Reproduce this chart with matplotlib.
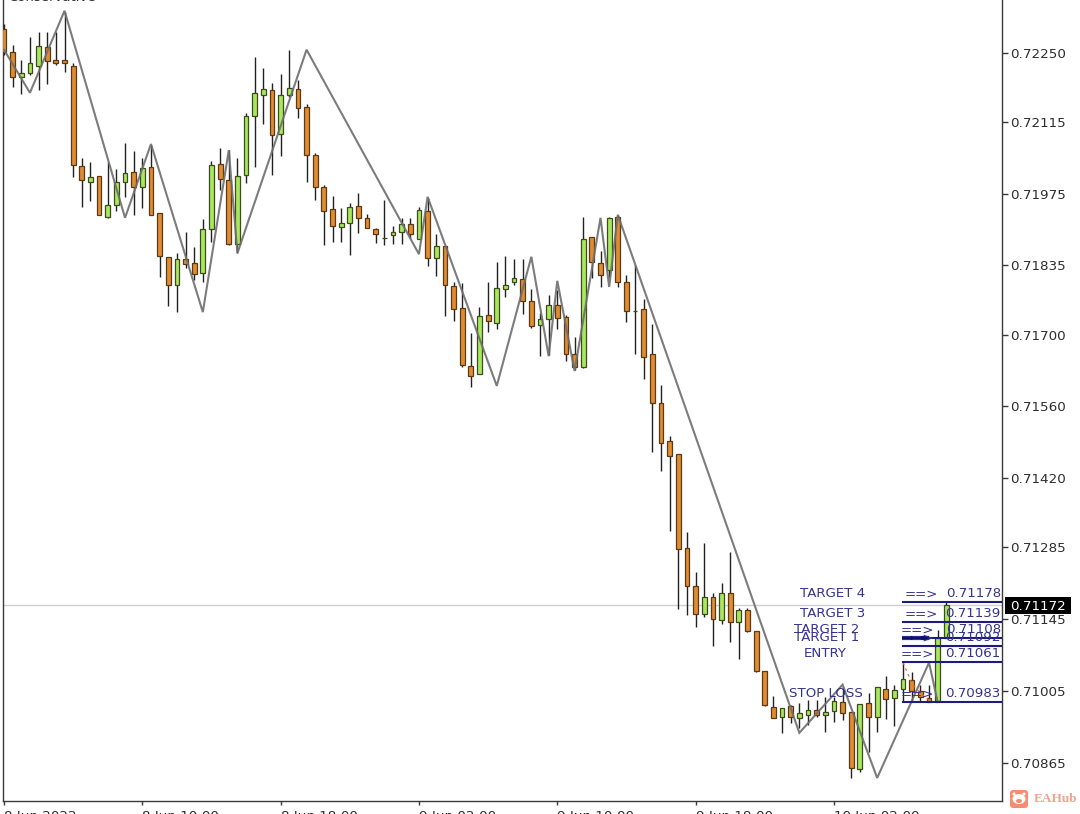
# -*- coding: utf-8 -*-
import matplotlib
matplotlib.use("Agg")
import matplotlib.pyplot as plt
from matplotlib.patches import FancyBboxPatch, Ellipse, Rectangle, Circle

# 30 min bars, prices in points (1e-5)
opens = [72296,72252,72203,72211,72224,72261,72236,72236,72224,72029,
         71998,72010,71930,71953,71998,72017,71988,72027,71937,71852,
         71797,71848,71840,71820,71906,72033,72002,71877,72012,72127,
         72168,72178,72092,72168,72179,72144,72051,71988,71945,71910,
         71918,71951,71928,71906,71889,71895,71900,71916,71887,71941,
         71850,71873,71795,71752,71639,71623,71738,71723,71789,71803,
         71809,71766,71719,71731,71758,71735,71662,71637,71891,71840,
         71826,71930,71803,71746,71750,71662,71567,71493,71467,71284,
         71210,71155,71188,71143,71196,71139,71163,71122,71044,70974,
         70954,70976,70952,70958,70968,70958,70966,70983,70964,70853,
         70981,70954,71009,70991,71009,71026,71005,70991,70985,71108]
highs = [72306,72265,72236,72281,72291,72291,72291,72330,72230,72045,
         72037,72010,72037,72023,72074,72058,72045,72070,71937,71852,
         71859,71900,71871,71926,72039,72064,72060,72045,72133,72242,
         72220,72191,72209,72256,72197,72150,72055,71992,71971,71947,
         71957,71976,71936,71908,71963,71912,71928,71928,71949,71967,
         71896,71873,71803,71801,71703,71754,71803,71842,71854,71848,
         71848,71789,71742,71777,71787,71738,71696,71930,71891,71863,
         71930,71934,71816,71836,71770,71721,71602,71502,71467,71315,
         71237,71294,71196,71216,71276,71167,71167,71122,71044,70995,
         70972,70978,70981,70987,70987,70993,70993,71013,70964,70980,
         71001,71013,71034,71017,71060,71042,71017,71017,71124,71178]
lows = [72246,72183,72170,72207,72178,72189,72226,72213,72008,71949,
        71961,71934,71928,71941,71969,71934,71947,71934,71813,71756,
        71744,71830,71807,71803,71881,71982,71875,71859,71996,72027,
        72111,72012,72049,72164,72123,71998,71963,71875,71881,71881,
        71856,71898,71908,71879,71875,71877,71877,71889,71887,71834,
        71815,71736,71727,71637,71598,71623,71705,71711,71774,71797,
        71740,71713,71658,71660,71711,71649,71631,71635,71811,71793,
        71813,71793,71725,71662,71614,71471,71434,71317,71165,71153,
        71130,71149,71093,71136,71100,71067,71120,71042,70976,70952,
        70923,70942,70933,70939,70954,70925,70944,70948,70835,70847,
        70886,70925,70950,70937,70983,70983,70983,70983,70983,71108]
closes = [72252,72203,72211,72230,72263,72234,72230,72230,72031,72002,
          72008,71934,71953,71998,72016,71988,72025,71934,71854,71797,
          71848,71838,71818,71906,72031,72004,71877,72010,72127,72172,
          72179,72090,72168,72181,72142,72051,71988,71941,71912,71918,
          71949,71928,71908,71896,71889,71900,71916,71896,71943,71850,
          71873,71797,71750,71641,71619,71736,71727,71791,71797,71811,
          71766,71717,71731,71758,71733,71662,71637,71887,71842,71816,
          71928,71803,71746,71746,71656,71567,71489,71463,71282,71210,
          71155,71188,71145,71196,71139,71163,71122,71044,70978,70952,
          70972,70954,70962,70968,70958,70964,70985,70962,70855,70980,
          70954,71013,70989,71007,71028,71005,70993,70983,71108,71173]

# zigzag turning points
zz_bars = [0,3,7,14,17,23,26,27,35,48,49,57,61,63,64,66,69,70,71,92,97,101,107,108]
zz_prices = [72256,72172,72332,71928,72072,71744,72060,71859,72256,71857,71969,71600,
             71852,71658,71805,71629,71928,71793,71934,70923,71017,70835,71060,70983]

level_names = ["TARGET 4","TARGET 3","TARGET 2","TARGET 1","ENTRY","STOP LOSS"]
level_prices = [71178,71139,71108,71092,71061,70983]
level_name_bars = [95.8,95.8,95.2,95.2,95.0,95.1]
arrow_bars = [104.2,104.2,103.7,103.7,103.7,103.7]

trade_bars = [104,105,106,107]
trade_prices = [71060,71020,71000,70987]

current_price = 71172
ytick_prices = [72250,72115,71975,71835,71700,71560,71420,71285,71145,71005,70865]
xtick_bars = [0,16,32,48,64,80,96]
xtick_labels = ["8 Jun 2022","8 Jun 10:00","8 Jun 18:00","9 Jun 02:00","9 Jun 10:00","9 Jun 18:00","10 Jun 02:00"]

ORANGE = "#E08C32"
GREEN = "#A8E85E"
NAVY = "#1C1C7C"
LABEL = "#34348F"
AXC = "#3A3A3A"

W, H = 1080, 814
fig = plt.figure(figsize=(W/100, H/100), dpi=100)
ax = fig.add_axes([3/W, 1-801/H, 999/W, 801/H])
ax.set_xlim(-0.116, 115.44)
ax.set_ylim(70790, 72353)

ax.spines["top"].set_visible(False)
for s in ["left","right","bottom"]:
    ax.spines[s].set_color(AXC)
    ax.spines[s].set_linewidth(1.0)

ax.axhline(current_price, color="#CFCFCF", lw=1, zorder=1)

bars = list(range(len(opens)))
ax.vlines(bars, lows, highs, color="#222222", lw=1, zorder=2)
for i in bars:
    up = closes[i] >= opens[i]
    bottom = min(opens[i], closes[i])
    ax.bar(i, abs(closes[i]-opens[i]), bottom=bottom, width=0.55,
           color=GREEN if up else ORANGE,
           edgecolor="#3F4A1E" if up else "#5A3A14", lw=0.9, zorder=3)

ax.plot(zz_bars, zz_prices, color="#6E6E6E", lw=1.5, alpha=0.9, zorder=4, solid_joinstyle="miter")
ax.plot(trade_bars, trade_prices, color="#E2603A", lw=0.9, ls=(0,(2,3)), zorder=4)

# target / stop levels
for name, p, nb, ab in zip(level_names, level_prices, level_name_bars, arrow_bars):
    ax.hlines(p, 103.9, 115.44, color=NAVY, lw=1.5, zorder=5)
    for x, txt, ha in [(nb, name, "center"), (ab, "==>", "left"), (115.3, f"0.{p}", "right")]:
        ax.annotate(txt, (x, p), xytext=(0, 6), textcoords="offset points", ha=ha, va="center",
                    fontsize=9.6, color=LABEL, zorder=6)
ax.hlines(71108, 103.9, 107, color="#10106E", lw=3, zorder=5)

ax.yaxis.tick_right()
ax.set_yticks(ytick_prices, [f"0.{p}" for p in ytick_prices])
ax.set_xticks(xtick_bars, xtick_labels, ha="left")
ax.tick_params(axis="y", length=4, width=1, color=AXC, labelcolor="#2E2E2E", labelsize=9.7, pad=2)
ax.tick_params(axis="x", length=3, width=1, color=AXC, labelcolor="#2E2E2E", labelsize=9.7, pad=3.5)

# overlay in pixel coordinates for the price tag and the site mark
top = fig.add_axes([0, 0, 1, 1], facecolor="none")
top.set_xlim(0, W); top.set_ylim(H, 0); top.axis("off")

top.add_patch(Rectangle((1005, 597), 66, 17, fc="black", ec="none"))
top.text(1038, 606, "0.71172", color="white", fontsize=9.7, ha="center", va="center")

# indicator name, cut off by the top edge
top.text(8, -2.5, "Conservative", color="#333333", fontsize=9.5, ha="left", va="center", clip_on=False)

top.add_patch(FancyBboxPatch((1012, 792), 14, 14, boxstyle="round,pad=2,rounding_size=3", fc="#FA8A70", ec="none"))
top.add_patch(Circle((1014, 794), 1.6, fc="white", ec="none"))
top.add_patch(Circle((1024, 794), 1.6, fc="white", ec="none"))
top.add_patch(Ellipse((1019, 799), 13, 10, fc="white", ec="none"))
top.add_patch(Ellipse((1019, 801), 6, 4, fc="#FA8A70", ec="none"))
top.text(1034, 799.5, "EAHub", color="#F4A08C", fontsize=9.5, fontweight="bold", family="Liberation Serif", ha="left", va="center")

fig.savefig("out.png", dpi=100)
